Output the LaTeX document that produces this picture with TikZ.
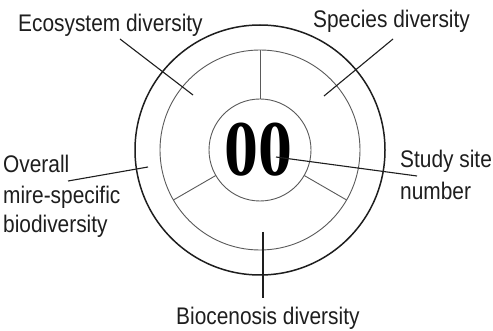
\documentclass[tikz,border=0pt]{standalone}
\usepackage{fontspec}
\setmainfont{Liberation Sans}[FakeStretch=0.87]
\newfontfamily\digitfont{Liberation Serif}[FakeStretch=0.86]
\usetikzlibrary{calc}
\definecolor{ink}{HTML}{1E1E1E}
\definecolor{ringgray}{HTML}{5A5A5A}
\begin{document}
\begin{tikzpicture}[x=1pt,y=-1pt,
  lbl/.style={font=\fontsize{24}{31}\selectfont, text=ink, inner sep=0pt, align=left},
  outerring/.style={draw=ink, line width=1.5pt},
  thinring/.style={draw=ringgray, line width=0.9pt},
  spoke/.style={draw=ringgray, line width=0.9pt},
  leader/.style={draw=ink, line width=1.1pt}]
\useasboundingbox[fill=white] (0,0) rectangle (493,331);
\coordinate (c) at (260,150);
\draw[outerring] (c) circle[radius=125];
\draw[thinring] (c) circle[radius=100];
\draw[thinring] (c) circle[radius=51];
% spokes between inner and middle circle
\coordinate (s1a) at (260,99);   \coordinate (s1b) at (260,50);
\coordinate (s2a) at (215.8,175.5); \coordinate (s2b) at (173.4,200);
\coordinate (s3a) at (304.2,175.5); \coordinate (s3b) at (346.6,200);
\draw[spoke] (s1a) -- (s1b);
\draw[spoke] (s2a) -- (s2b);
\draw[spoke] (s3a) -- (s3b);
% centre number
\node[font=\digitfont\bfseries\fontsize{79}{79}\selectfont, text=black, inner sep=0pt] (num) at (258,150) {00};
% labels
\node[lbl, anchor=base west] (eco) at (18,32) {Ecosystem diversity};
\node[lbl, anchor=base west] (spe) at (313,28) {Species diversity};
\node[lbl, anchor=base west] (ov1) at (3,173) {Overall};
\node[lbl, anchor=base west] (ov2) at (3,204) {mire-specific};
\node[lbl, anchor=base west] (ov3) at (3,233) {biodiversity};
\node[lbl, anchor=base west] (st1) at (400,168) {Study site};
\node[lbl, anchor=base west] (st2) at (400,200) {number};
\node[lbl, anchor=base west] (bio) at (176,325) {Biocenosis diversity};
% leader lines
\coordinate (le1) at (120,39);  \coordinate (le2) at (193,95);
\coordinate (ls1) at (393,39);  \coordinate (ls2) at (324,96);
\coordinate (lo1) at (68,181);  \coordinate (lo2) at (148,167);
\coordinate (lt1) at (276,157); \coordinate (lt2) at (417,176);
\coordinate (lb1) at (263,232); \coordinate (lb2) at (263,298);
\draw[leader] (le1) -- (le2);
\draw[leader] (ls1) -- (ls2);
\draw[leader] (lo1) -- (lo2);
\draw[leader] (lt1) -- (lt2);
\draw[leader] (lb1) -- (lb2);
\end{tikzpicture}
\end{document}
